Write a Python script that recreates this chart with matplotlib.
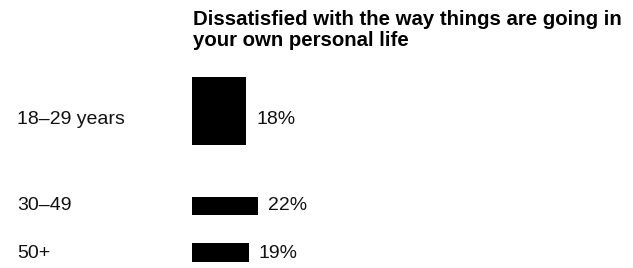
import matplotlib
matplotlib.use("Agg")
import matplotlib.pyplot as plt

# data
groups = ["18–29 years", "30–49", "50+"]
values = [18, 22, 19]
title = "Dissatisfied with the way things are going in\nyour own personal life"

plt.rcParams['font.family'] = ['Liberation Sans', 'DejaVu Sans']

W, H = 633, 268
fig = plt.figure(figsize=(W / 100, H / 100), dpi=100)
ax = fig.add_axes([0, 0, 1, 1])

# layout: 3 px per percent, bars start at x=192 px; y axis in pixels from top
px = 3.0
x0 = 192
ax.set_xlim(-x0 / px, (W - x0) / px)
ax.set_ylim(H, 0)
ax.axis('off')

row_y = [119, 206, 254]          # label rows
bar_y = [111, 206, 252.5]        # bar centres
bar_h = [68, 18, 19]             # bar thickness as drawn in the original

ax.barh(bar_y, values, height=bar_h, color='black', left=0)

for g, v, y in zip(groups, values, row_y):
    ax.text((17 - x0) / px, y, g, ha='left', va='center', fontsize=14, color='#111111')
    ax.text(v + 10 / px, y, f"{v}%", ha='left', va='center', fontsize=14, color='#111111')

fig.text(193 / W, 1 - 10 / H, title, ha='left', va='top', fontsize=14.7,
         fontweight='bold', color='black', linespacing=1.15)

fig.savefig("out.png", dpi=100, facecolor='white')
